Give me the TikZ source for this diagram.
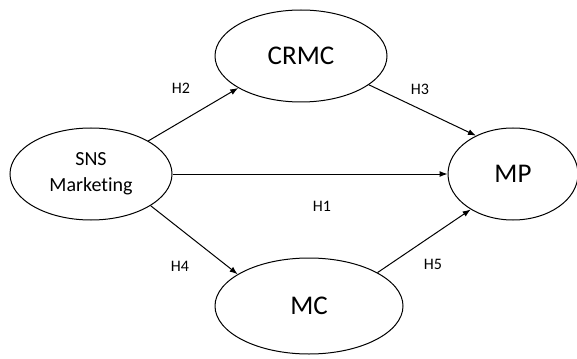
\documentclass[tikz,border=0pt]{standalone}
\usepackage{fontspec}
\setmainfont[Ligatures=NoCommon]{Carlito}
\usetikzlibrary{shapes.geometric,arrows.meta}
\begin{document}
\begin{tikzpicture}[x=1pt,y=-1pt,
  latent/.style={draw,ellipse,line width=1pt,inner sep=0pt,align=center},
  path/.style={draw,line width=1pt,-{Latex[length=8pt,width=6pt]}},
  hlab/.style={font=\fontsize{16}{20}\selectfont}]
\useasboundingbox (0,0) rectangle (577,358);
\node[latent,minimum width=162pt,minimum height=92pt,font=\fontsize{20}{26}\selectfont] (sns) at (91,174) {SNS\\Marketing};
\node[latent,minimum width=172pt,minimum height=92pt,font=\fontsize{27}{30}\selectfont] (crmc) at (301,56) {CRMC};
\node[latent,minimum width=130pt,minimum height=92pt,font=\fontsize{27}{30}\selectfont] (mp) at (513,174) {MP};
\node[latent,minimum width=188pt,minimum height=96pt,font=\fontsize{27}{30}\selectfont] (mc) at (309,306) {MC};
\draw[path] (sns.30.8) -- (crmc.207);
\draw[path] (sns.east) -- (mp.west);
\draw[path] (sns.-28.5) -- (mc.156);
\draw[path] (crmc.-23.6) -- (mp.134);
\draw[path] (mc.26.2) -- (mp.220);
\node[hlab] (h2) at (181,88) {H2};
\node[hlab] (h3) at (420,89) {H3};
\node[hlab] (h1) at (322,206) {H1};
\node[hlab] (h4) at (180,266) {H4};
\node[hlab] (h5) at (433,264) {H5};
\end{tikzpicture}
\end{document}
